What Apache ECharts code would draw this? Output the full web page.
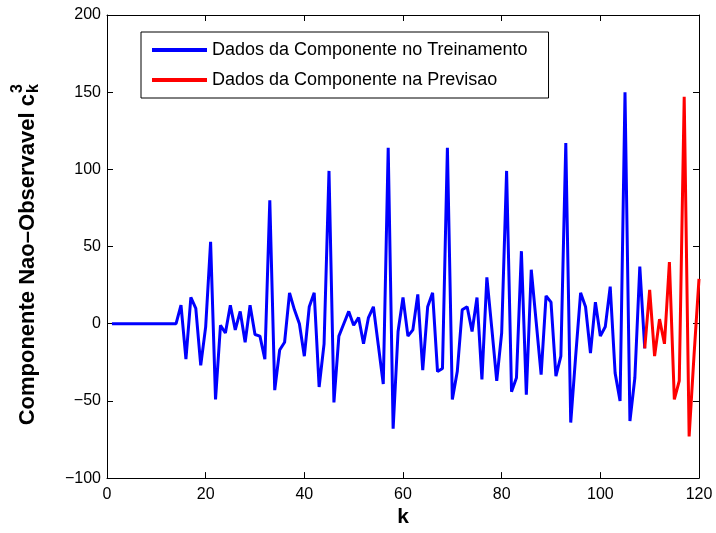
<!DOCTYPE html>
<html>
<head>
<meta charset="utf-8">
<script src="https://cdn.jsdelivr.net/npm/echarts@6/dist/echarts.min.js"></script>
<style>html,body{margin:0;padding:0;background:#fff}#c{width:716px;height:533px}</style>
</head>
<body>
<div id="c"></div>
<script>
// Data
const trainStartK = 1;
const trainValues = [0,0,0,0,0,0,0,0,0,0,0,0,0,0,
  12,-23,17,10,-27,-2,53,-49,-1,-6,12,-4,8,-12,12,-7,-8,-23,80,-43,
  -17,-12,20,9,0,-21,11,20,-41,-13,99,-51,-8,0,8,-1,4,-13,4,11,
  -14,-39,114,-68,-5,17,-8,-4,19,-30,11,20,-31,-29,114,-49,-31,9,11,-5,
  17,-36,30,-3,-37,-6,99,-44,-35,47,-46,35,1,-33,18,14,-34,-21,117,-64,
  -21,20,11,-19,14,-8,-2,24,-32,-50,150,-63,-35,37,-16];
const predStartK = 109;
const predValues = [-16,22,-21,3,-13,40,-49,-37,147,-73,-20,29];
const seriesNames = ['Dados da Componente no Treinamento','Dados da Componente na Previsao'];
const xTicks = {min:0, max:120, interval:20};
const yTicks = {min:-100, max:200, interval:50};
const xLabel = 'k';
const yLabelMain = 'Componente Nao\u2013Observavel c';
const yLabelSup = '3';
const yLabelSub = 'k';

const trainData = trainValues.map((v,i)=>[trainStartK+i, v]);
const predData = predValues.map((v,i)=>[predStartK+i, v]);

const font = '"Liberation Sans", Arial, Helvetica, sans-serif';
const chart = echarts.init(document.getElementById('c'), null, {renderer:'canvas'});
const axisCommon = {
  axisLine:{show:true, onZero:false, lineStyle:{color:'#000', width:1}},
  axisTick:{show:true, inside:true, length:6, lineStyle:{color:'#000'}},
  splitLine:{show:false}
};
chart.setOption({
  animation:false,
  backgroundColor:'#fff',
  textStyle:{fontFamily:font},
  grid:{left:107, top:15, width:592, height:468, containLabel:false},
  legend:{
    orient:'vertical', left:141, top:32,
    padding:[9,21,9,11],
    borderColor:'#000', borderWidth:1, backgroundColor:'#fff',
    itemWidth:55, itemHeight:4, itemGap:12,
    icon:'rect',
    textStyle:{fontFamily:font, fontSize:18, color:'#000'},
    data:seriesNames
  },
  xAxis:[
    Object.assign({type:'value', position:'bottom', min:xTicks.min, max:xTicks.max, interval:xTicks.interval,
      name:xLabel, nameLocation:'middle', nameGap:26,
      nameTextStyle:{fontFamily:font, fontSize:21, fontWeight:'bold', color:'#000'},
      axisLabel:{fontFamily:font, fontSize:16, color:'#000', margin:8}}, axisCommon),
    Object.assign({type:'value', position:'top', min:xTicks.min, max:xTicks.max, interval:xTicks.interval,
      axisLabel:{show:false}}, axisCommon)
  ],
  yAxis:[
    Object.assign({type:'value', position:'left', min:yTicks.min, max:yTicks.max, interval:yTicks.interval,
      axisLabel:{fontFamily:font, fontSize:16, color:'#000', margin:6,
        formatter:v=>String(v).replace('-','\u2212')}}, axisCommon),
    Object.assign({type:'value', position:'right', min:yTicks.min, max:yTicks.max, interval:yTicks.interval,
      axisLabel:{show:false}}, axisCommon)
  ],
  graphic:[{
    type:'group', x:28, y:94, rotation:Math.PI/2,
    children:[
      {type:'text', x:0, y:0, style:{text:yLabelMain, align:'right', verticalAlign:'middle',
        fontFamily:font, fontSize:22, fontWeight:'bold', fill:'#000'}},
      {type:'text', x:1, y:-10, style:{text:yLabelSup, align:'left', verticalAlign:'middle',
        fontFamily:font, fontSize:16, fontWeight:'bold', fill:'#000'}},
      {type:'text', x:1, y:6, style:{text:yLabelSub, align:'left', verticalAlign:'middle',
        fontFamily:font, fontSize:16, fontWeight:'bold', fill:'#000'}}
    ]
  }],
  series:[
    {name:seriesNames[0], type:'line', data:trainData, showSymbol:false, symbol:'none',
      lineStyle:{color:'#0000ff', width:3}, itemStyle:{color:'#0000ff'}, z:3},
    {name:seriesNames[1], type:'line', data:predData, showSymbol:false, symbol:'none',
      lineStyle:{color:'#ff0000', width:3}, itemStyle:{color:'#ff0000'}, z:4}
  ]
});
</script>
</body>
</html>
